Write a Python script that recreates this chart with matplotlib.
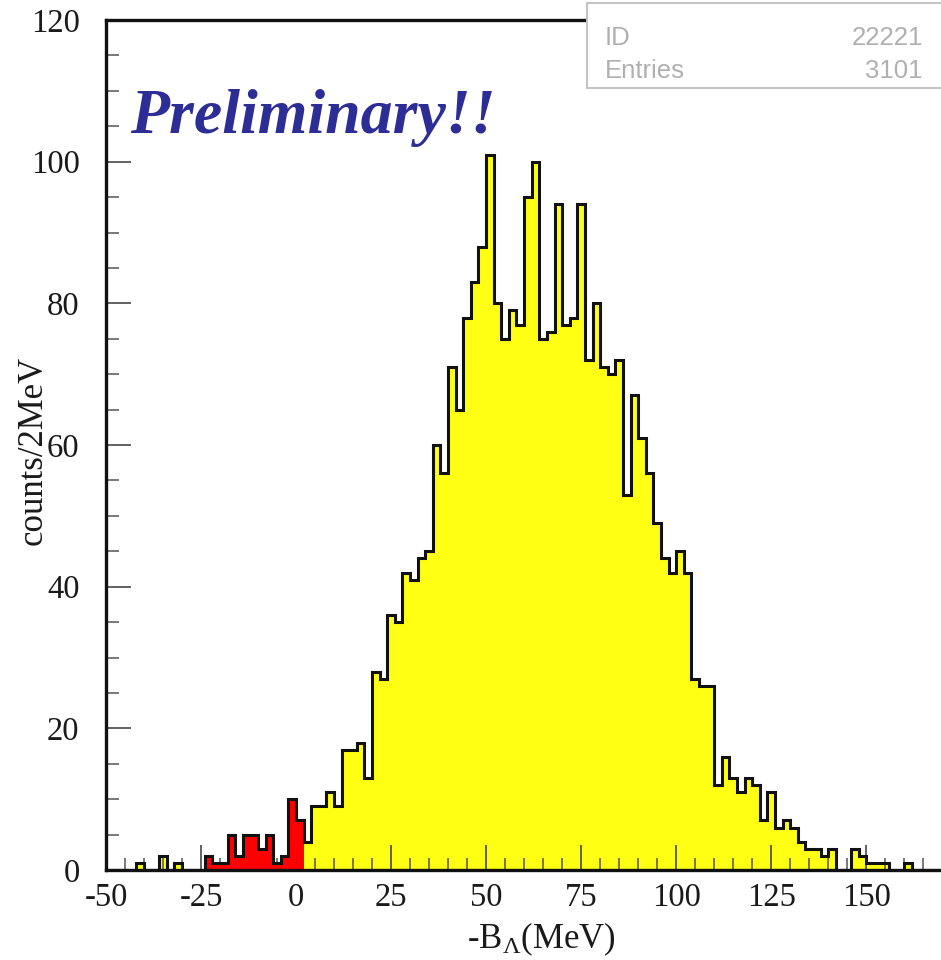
import numpy as np
import matplotlib
matplotlib.use("Agg")
import matplotlib.pyplot as plt
from matplotlib.ticker import MultipleLocator
from matplotlib.patches import Rectangle

plt.rcParams['font.family'] = ['Liberation Serif', 'DejaVu Serif']
plt.rcParams['mathtext.fontset'] = 'custom'
plt.rcParams['mathtext.rm'] = 'Liberation Serif'
plt.rcParams['mathtext.it'] = 'Liberation Serif:italic'
plt.rcParams['axes.unicode_minus'] = False

# counts per 2 MeV bin, -B_Lambda from -50 to 170 MeV
bin_lo = -50
bin_width = 2
counts = [
    0, 0, 0, 0, 1, 0, 0, 2, 0, 1, 0, 0, 0, 2, 1, 1, 5, 2, 5, 5, 3, 5, 1, 2, 10,
    7, 4, 9, 9, 11, 9, 17, 17, 18, 13, 28, 27, 36, 35, 42, 41, 44, 45, 60, 56, 71, 65, 78, 83, 88,
    101, 80, 75, 79, 77, 95, 100, 75, 76, 94, 77, 78, 94, 72, 80, 71, 70, 72, 53, 67, 61, 56, 49, 44, 42,
    45, 42, 27, 26, 26, 12, 16, 13, 11, 13, 12, 7, 11, 6, 7, 6, 4, 3, 3, 2, 3, 0, 0, 3, 2,
    1, 1, 1, 0, 0, 1, 0, 0, 0, 0,
]
# bound region highlighted in red
red_range = (-30, 2)

hist_id = "22221"
entries = "3101"

counts = np.array(counts)
edges = bin_lo + bin_width * np.arange(len(counts) + 1)
red_counts = np.where((edges[:-1] >= red_range[0]) & (edges[1:] <= red_range[1]), counts, 0)

fig = plt.figure(figsize=(9.41, 9.6), dpi=100)
ax = fig.add_axes([106 / 941, 90 / 960, 840 / 941, 850 / 960])

ax.stairs(counts, edges, fill=True, color='#ffff14', zorder=1)
ax.stairs(red_counts, edges, fill=True, color='#ff0000', zorder=2)
ax.stairs(counts, edges, fill=False, color='#111111', lw=2.2, zorder=3)

ax.set_xlim(-50, 171)
ax.set_ylim(0, 120)

ax.set_xticks([-50, -25, 0, 25, 50, 75, 100, 125, 150])
ax.xaxis.set_minor_locator(MultipleLocator(5))
ax.set_yticks(np.arange(0, 121, 20))
ax.yaxis.set_minor_locator(MultipleLocator(5))

ax.tick_params(which='both', direction='in', top=False, right=False,
               color='#555555', labelcolor='#1a1a1a', labelsize=23.5)
ax.tick_params(which='major', length=18, width=1.3)
ax.tick_params(which='minor', length=9, width=1.1)
ax.tick_params(axis='y', pad=19)
ax.tick_params(axis='x', pad=9)

for side in ['left', 'bottom', 'top']:
    ax.spines[side].set_linewidth(2.4)
    ax.spines[side].set_color('#111111')
ax.spines['right'].set_visible(False)

# stats box in the top right corner
ax.add_patch(Rectangle((0.5726, 0.92), 0.5, 0.1, transform=ax.transAxes,
                       facecolor='white', edgecolor='#c4c4c4', lw=1.5, zorder=5,
                       clip_on=False))
stat_font = dict(family='Liberation Sans', fontsize=18.5, color='#b0b0b0', zorder=6,
                 va='center', transform=ax.transAxes)
ax.text(0.594, 0.979, "ID", ha='left', **stat_font)
ax.text(0.9726, 0.979, hist_id, ha='right', **stat_font)
ax.text(0.594, 0.94, "Entries", ha='left', **stat_font)
ax.text(0.9726, 0.94, entries, ha='right', **stat_font)

fig.text(130 / 941, 1 - 133 / 960, "Preliminary!!", fontsize=46, fontweight='bold',
         fontstyle='italic', color='#2d2d96', ha='left', va='baseline')

fig.text(33 / 941, 1 - 450 / 960, "counts/2MeV", rotation=90, fontsize=25,
         ha='center', va='center', color='#1a1a1a')
fig.text(467 / 941, 1 - 948 / 960, r"-B$_{\Lambda}$(MeV)", fontsize=25,
         ha='left', va='baseline', color='#1a1a1a')

fig.savefig("out.png", dpi=100)
